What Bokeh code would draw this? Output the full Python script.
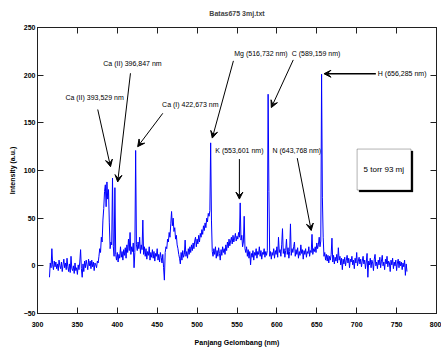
from bokeh.plotting import figure
from bokeh.models import (LinearAxis, Label, Arrow, VeeHead, BoxAnnotation,
                          ColumnDataSource, FixedTicker, CustomLabelingPolicy)
from bokeh.embed import file_html
from bokeh.resources import INLINE

# ---------------- data ----------------
START_NM = 315   # first sampled wavelength (nm), 1 nm steps
intensity = [
    -12, 3, -2, 18, 1, -4, 5, -1, 4, -3,        # 315-324
    2, -5, 6, 0, -3, 4, -6, 1, 7, -2,           # 325-334
    3, -4, 8, -1, -6, 2, -7, 10, -3, -5,        # 335-344
    0, -8, 3, -5, -2, -9, 1, -4, 4, 17,         # 345-354
    -3, -12, 2, -6, 5, -2, 6, 1, -4, 7,         # 355-364
    0, 5, -3, 6, -1, 4, -5, 3, 1, -2,           # 365-374
    5, 3, 10, 18, 14, 30, 25, 48, 60, 78,       # 375-384
    85, 62, 88, 70, 80, 45, 18, 25, 22, 92,     # 385-394
    20, 10, 82, 12, 6, 14, 4, 12, 8, 20,        # 395-404
    9, 15, 6, 17, 11, 19, 8, 22, 14, 28,        # 405-414
    16, 35, 12, 20, 15, 24, -2, 14, 121, 22,    # 415-424
    16, 25, 18, 30, 13, 22, 17, 48, 12, 20,     # 425-434
    10, 18, 7, 15, 11, 20, 6, 14, 9, 17,        # 435-444
    8, 15, 5, 13, 10, 18, 6, 12, 4, 14,         # 445-454
    9, 3, 12, -2, -15, 14, 20, 18, 28, 25,      # 455-464
    35, 30, 44, 57, 42, 50, 36, 40, 28, 32,     # 465-474
    22, 18, 12, 8, 2, 14, 6, 16, 9, 12,         # 475-484
    27, 10, 15, 8, 18, 12, 20, 14, 22, 16,      # 485-494
    24, 18, 26, 30, 20, 28, 23, 32, 25, 34,     # 495-504
    30, 38, 33, 42, 37, 45, 40, 50, 46, 55,     # 505-514
    52, 58, 129, 48, 15, 10, 18, 12, 20, 8,     # 515-524
    16, 10, 19, 13, 6, 17, 11, 20, 14, 18,      # 525-534
    12, 22, 16, 25, 19, 28, 21, 26, 30, 23,     # 535-544
    32, 25, 29, 34, 26, 31, 28, 35, 30, 66,     # 545-554
    27, 32, 20, 25, 52, 18, 14, 20, 10, 17,     # 555-564
    8, 15, 1, 13, 9, 16, 6, 14, 11, 18,         # 565-574
    8, 15, 12, 20, 10, 16, 7, 14, 12, 18,       # 575-584
    9, 15, 11, 16, 180, 78, 10, 15, 7, 14,      # 585-594
    11, 18, 8, 16, 12, 20, 9, 30, 14, 17,       # 595-604
    10, 22, 39, 13, 18, 9, 16, 28, 12, 19,      # 605-614
    8, 15, 44, 11, 18, 14, 20, 25, 10, 17,      # 615-624
    12, 19, 8, 15, 11, 22, 13, 17, 7, 16,       # 625-634
    12, 18, 9, 15, 13, 20, 10, 16, 14, 33,      # 635-644
    12, 18, 15, 20, 14, 24, 18, 22, 30, 20,     # 645-654
    26, 201, 72, 30, 10, 14, 6, 12, 5, 11,      # 655-664
    3, 10, 6, 12, 29, 4, 11, 2, 9, 5,           # 665-674
    12, 3, 19, 6, 10, 1, 8, -4, 7, 2,           # 675-684
    9, 0, 6, 11, 3, 8, -2, 7, 4, 10,            # 685-694
    1, 6, -3, 8, 3, 14, 0, 5, 9, 2,             # 695-704
    7, -1, 5, 10, 2, 6, -3, 4, 13, -12,         # 705-714
    5, 1, 8, -2, 6, 3, -5, 7, 12, 0,            # 715-724
    4, -3, 6, 1, 9, -2, 5, 11, 0, 4,            # 725-734
    -4, 7, 2, 10, -1, 5, 3, -6, 6, 1,           # 735-744
    8, -3, 4, 0, 6, -5, 3, 7, -2, 5,            # 745-754
    0, 4, -4, 3, -1, 6, -10, 2, -6,             # 755-763
]
wavelength = [START_NM + i for i in range(len(intensity))]

x_ticks = [300, 350, 400, 450, 500, 550, 600, 650, 700, 750, 800]
y_ticks = [-50, 0, 50, 100, 150, 200, 250]

# line labels: text, text position, arrow start, arrow end (data units)
annotations = [
    ("Ca (II) 393,529 nm", 371.5, 177, 375.5, 164, 391.5, 104),
    ("Ca (II) 396,847 nm", 419, 212, 416.5, 202, 400.5, 88),
    ("Ca (I) 422,673 nm", 491.5, 169, 457, 160, 425.5, 125),
    ("Mg (516,732 nm)", 580, 222.5, 545.5, 215, 519, 134),
    ("C (589,159 nm)", 649, 222.5, 620.5, 216, 593, 166),
    ("K (553,601 nm)", 553, 121.5, 553, 112, 553, 70),
    ("N (643,768 nm)", 625, 121.5, 625.5, 113, 643, 37),
]

FONT = "Liberation Sans, Arial, sans-serif"

# ---------------- figure ----------------
p = figure(width=441, height=354,
           x_range=(300, 800), y_range=(-50, 250),
           output_backend="svg", toolbar_location=None,
           min_border_left=37, min_border_right=4,
           min_border_top=27, min_border_bottom=41,
           title="Batas675 3mj.txt")
p.title.align = "center"
p.title.text_font = FONT
p.title.text_font_size = "7px"
p.title.text_font_style = "bold"
p.title.offset = 0
p.title.standoff = 14

p.grid.visible = False
p.outline_line_color = "#202020"
p.outline_line_width = 1
p.background_fill_color = "white"

src = ColumnDataSource(dict(x=wavelength, y=intensity))
p.line("x", "y", source=src, line_color="#0000ff", line_width=1)

for ax in p.xaxis:
    ax.ticker = FixedTicker(ticks=x_ticks)
for ax in p.yaxis:
    ax.ticker = FixedTicker(ticks=y_ticks)

for ax in list(p.xaxis) + list(p.yaxis):
    ax.major_tick_in = 6
    ax.major_tick_out = 0
    ax.minor_tick_line_color = None
    ax.axis_line_color = "#202020"
    ax.major_tick_line_color = "#202020"
    ax.major_label_text_font = FONT
    ax.major_label_text_font_style = "bold"
    ax.major_label_text_font_size = "7px"
    ax.major_label_text_color = "black"
    ax.axis_label_text_font = FONT
    ax.axis_label_text_font_style = "bold"
    ax.axis_label_text_font_size = "7px"
    ax.axis_label_text_color = "black"

p.xaxis.axis_label = "Panjang Gelombang (nm)"
p.xaxis.major_label_standoff = 8
p.xaxis.axis_label_standoff = 9
p.yaxis.axis_label = "Intensity (a.u.)"
p.yaxis.major_label_standoff = 2
p.yaxis.axis_label_standoff = 5

no_labels = CustomLabelingPolicy(
    code="for (let i = 0; i < indices.size; i++) { indices.unset(i) } return indices")

top_ax = LinearAxis(ticker=FixedTicker(ticks=x_ticks))
right_ax = LinearAxis(ticker=FixedTicker(ticks=y_ticks))
for ax in (top_ax, right_ax):
    ax.major_tick_in = 6
    ax.major_tick_out = 0
    ax.minor_tick_line_color = None
    ax.axis_line_color = "#202020"
    ax.major_tick_line_color = "#202020"
    ax.major_label_policy = no_labels
    ax.major_label_standoff = 0
    ax.major_label_text_font_size = "1px"
p.add_layout(top_ax, "above")
p.add_layout(right_ax, "right")

head = lambda: VeeHead(size=7, fill_color="black", line_color="black", line_width=1)
for text, tx, ty, x0, y0, x1, y1 in annotations:
    p.add_layout(Label(x=tx, y=ty, text=text, text_align="center",
                       text_baseline="middle", text_font=FONT,
                       text_font_size="7px", text_color="black"))
    p.add_layout(Arrow(x_start=x0, y_start=y0, x_end=x1, y_end=y1,
                       line_color="black", line_width=1, end=head()))

# H label with horizontal arrow
p.add_layout(Label(x=726.5, y=201.5, text="H (656,285 nm)", text_align="left",
                   text_baseline="middle", text_font=FONT,
                   text_font_size="7px", text_color="black"))
p.add_layout(Arrow(x_start=724, y_start=201.5, x_end=659, y_end=201.5,
                   line_color="black", line_width=1.5, end=head()))

# annotation box with a small shadow
p.add_layout(BoxAnnotation(left=703, right=770.5, bottom=77.5, top=120.5,
                           fill_color="black", fill_alpha=1, line_color="black"))
p.add_layout(BoxAnnotation(left=700.5, right=768, bottom=79.5, top=122.5,
                           fill_color="white", fill_alpha=1, line_color="black",
                           line_width=1))
p.add_layout(Label(x=734, y=101, text="5 torr 93 mj", text_align="center",
                   text_baseline="middle", text_font=FONT,
                   text_font_size="8px", text_color="black"))

open("out.html", "w").write(file_html(p, INLINE))
